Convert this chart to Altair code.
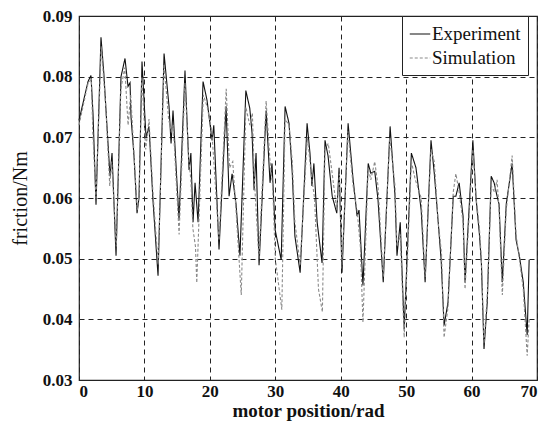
import altair as alt
import pandas as pd

exp_x = [0, 1.38, 1.83, 2.14, 2.6, 3.36, 3.8, 4.13, 4.74, 5.05, 5.66, 6.42, 7.03, 7.49, 7.8, 7.95, 8.4, 8.87, 9.17, 9.63,
         10.24, 10.7, 11.3, 12.08, 13.0, 13.76, 14.07, 14.37, 15.29, 16.2, 16.82, 17.1, 17.43, 17.74, 18.2, 18.96, 19.57,
         20.34, 20.6, 21.4, 22.48, 22.94, 23.4, 24.0, 24.6, 25.5, 26.1, 26.45, 26.76, 27.06, 27.52, 28.6, 29.2, 29.5,
         29.97, 30.9, 31.5, 32.1, 32.6, 33.0, 33.8, 34.86, 35.3, 35.6, 35.9, 36.4, 37.15, 37.6, 38.07, 38.7, 39.4, 39.75,
         40.2, 41.13, 41.9, 42.5, 42.8, 43.4, 44.2, 44.6, 45.2, 45.7, 46.5, 47.55, 48.3, 48.6, 49.1, 49.7, 50.8, 51.5,
         52.3, 52.9, 53.8, 54.3, 54.9, 55.35, 55.8, 56.4, 57.2, 57.6, 58.1, 58.7, 59.0, 60.2, 60.7, 61.2, 61.5, 61.9,
         62.4, 63.0, 63.45, 63.9, 64.2, 64.7, 65.3, 66.2, 66.8, 67.3, 67.9, 68.5, 68.8]
exp_y = [0.0728, 0.0792, 0.0802, 0.0739, 0.0589, 0.0865, 0.0805, 0.0744, 0.0636, 0.0674, 0.0505, 0.0800, 0.0830, 0.0784,
         0.0790, 0.0734, 0.0670, 0.0575, 0.0600, 0.0825, 0.0700, 0.0718, 0.0597, 0.0472, 0.0838, 0.0751, 0.0690, 0.0744,
         0.0564, 0.0810, 0.0646, 0.0674, 0.0560, 0.0625, 0.0560, 0.0792, 0.0761, 0.0695, 0.0720, 0.0515, 0.0751, 0.0603,
         0.0640, 0.0590, 0.0505, 0.0777, 0.0748, 0.0707, 0.0613, 0.0674, 0.0489, 0.0744, 0.0625, 0.0657, 0.0548, 0.0498,
         0.0751, 0.0723, 0.0640, 0.0537, 0.0477, 0.0723, 0.0674, 0.0620, 0.0657, 0.0560, 0.0493, 0.0695, 0.0669, 0.0603,
         0.0575, 0.0650, 0.0477, 0.0723, 0.0630, 0.0570, 0.0580, 0.0456, 0.0657, 0.0641, 0.0644, 0.0597, 0.0461, 0.0718,
         0.0603, 0.0505, 0.0560, 0.0384, 0.0674, 0.0650, 0.0580, 0.0461, 0.0695, 0.0641, 0.0560, 0.0498, 0.0390, 0.0428,
         0.0603, 0.0603, 0.0625, 0.0570, 0.0461, 0.0695, 0.0597, 0.0540, 0.0493, 0.0351, 0.0428, 0.0636, 0.0625, 0.0603,
         0.0590, 0.0461, 0.0590, 0.0657, 0.0531, 0.0505, 0.0461, 0.0374, 0.0498]

sim_x = [0, 1.4, 1.9, 2.1, 2.6, 3.4, 4.1, 4.7, 5.0, 5.7, 6.4, 7.0, 7.5, 7.9, 8.9, 9.2, 9.6, 10.2, 10.7, 11.3, 12.1, 13.0,
         13.7, 14.1, 14.4, 15.3, 16.2, 16.8, 17.1, 17.4, 17.8, 18.0, 19.0, 19.6, 20.3, 21.4, 22.5, 23.0, 23.5, 24.0, 24.8,
         25.5, 26.1, 26.5, 26.8, 27.5, 28.6, 29.2, 29.6, 30.0, 31.0, 31.5, 32.1, 32.6, 33.0, 33.8, 34.9, 35.3, 35.6, 36.0,
         36.6, 37.2, 37.6, 38.1, 38.7, 39.4, 39.8, 40.2, 41.1, 41.9, 42.5, 43.0, 43.4, 44.2, 44.6, 45.2, 45.7, 46.5, 47.5,
         48.3, 48.6, 49.1, 49.7, 50.8, 51.4, 52.3, 52.9, 53.8, 54.3, 54.9, 55.4, 55.8, 56.4, 57.2, 57.6, 58.1, 58.7, 59.0,
         60.2, 60.7, 61.2, 61.5, 61.9, 62.4, 63.0, 63.5, 63.9, 64.2, 64.7, 65.3, 66.2, 66.8, 67.3, 67.9, 68.5, 68.8]
sim_y = [0.0720, 0.0790, 0.0795, 0.0710, 0.0600, 0.0850, 0.0750, 0.0620, 0.0660, 0.0520, 0.0780, 0.0815, 0.0720, 0.0770,
         0.0580, 0.0610, 0.0800, 0.0680, 0.0730, 0.0610, 0.0490, 0.0820, 0.0730, 0.0710, 0.0720, 0.0540, 0.0790, 0.0660,
         0.0630, 0.0550, 0.0520, 0.0460, 0.0770, 0.0750, 0.0710, 0.0530, 0.0780, 0.0650, 0.0660, 0.0580, 0.0440, 0.0750,
         0.0720, 0.0740, 0.0630, 0.0500, 0.0760, 0.0660, 0.0620, 0.0500, 0.0416, 0.0730, 0.0720, 0.0660, 0.0560, 0.0490,
         0.0700, 0.0660, 0.0630, 0.0600, 0.0450, 0.0412, 0.0680, 0.0690, 0.0640, 0.0580, 0.0640, 0.0490, 0.0710, 0.0620,
         0.0580, 0.0520, 0.0395, 0.0650, 0.0630, 0.0660, 0.0620, 0.0470, 0.0700, 0.0620, 0.0520, 0.0540, 0.0370, 0.0660,
         0.0630, 0.0600, 0.0470, 0.0680, 0.0660, 0.0560, 0.0510, 0.0370, 0.0420, 0.0610, 0.0640, 0.0610, 0.0560, 0.0450,
         0.0680, 0.0600, 0.0550, 0.0500, 0.0360, 0.0440, 0.0620, 0.0610, 0.0630, 0.0580, 0.0440, 0.0580, 0.0670, 0.0540,
         0.0500, 0.0450, 0.0340, 0.0400]

series_names = ["Experiment", "Simulation"]
x_ticks = [0, 10, 20, 30, 40, 50, 60, 70]
y_ticks = [0.03, 0.04, 0.05, 0.06, 0.07, 0.08, 0.09]

df = pd.concat([
    pd.DataFrame({"pos": exp_x, "friction": exp_y, "series": series_names[0], "idx": range(len(exp_x))}),
    pd.DataFrame({"pos": sim_x, "friction": sim_y, "series": series_names[1], "idx": range(len(sim_x))}),
])

FONT = "Liberation Serif"

legend_cfg = alt.Legend(title=None, orient="none", legendX=323, legendY=0, symbolType="stroke",
                        symbolSize=420, symbolStrokeWidth=1.2, labelFont=FONT, labelFontSize=19,
                        labelColor="#111", strokeColor="#222", fillColor="white", padding=7,
                        rowPadding=3, labelOffset=1, cornerRadius=0)

chart = alt.Chart(df).mark_line(strokeWidth=1.1).encode(
    x=alt.X("pos:Q", scale=alt.Scale(domain=[0, 70], nice=False),
            axis=alt.Axis(title="motor position/rad", values=x_ticks, format="d")),
    y=alt.Y("friction:Q", scale=alt.Scale(domain=[0.03, 0.09], nice=False, zero=False),
            axis=alt.Axis(title="friction/Nm", values=y_ticks, format=".2f")),
    color=alt.Color("series:N", scale=alt.Scale(domain=series_names, range=["#111111", "#8a8a8a"]),
                    legend=legend_cfg),
    strokeDash=alt.StrokeDash("series:N", scale=alt.Scale(domain=series_names, range=[[1, 0], [3, 2]]),
                              legend=legend_cfg),
    order=alt.Order("idx:Q"),
).properties(
    width=458, height=364,
    autosize=alt.AutoSizeParams(type="none"),
    padding={"left": 71, "top": 8, "right": 2, "bottom": 42},
).configure_view(
    stroke="#222", strokeWidth=1.2
).configure_axis(
    grid=True, gridColor="#222", gridDash=[5, 4], gridWidth=1, gridOpacity=1,
    domain=False, ticks=False,
    labelFont=FONT, labelFontSize=17, labelFontWeight="bold", labelColor="#111", labelPadding=4,
    titleFont=FONT, titleFontSize=20, titleColor="#111",
).configure_axisX(
    labelPadding=3, titlePadding=2, titleFontWeight="bold", titleFontSize=19
).configure_axisY(
    labelPadding=7, titlePadding=12, titleFontWeight="normal"
)

chart.save("out.html", embed_options={"renderer": "svg", "actions": False})
